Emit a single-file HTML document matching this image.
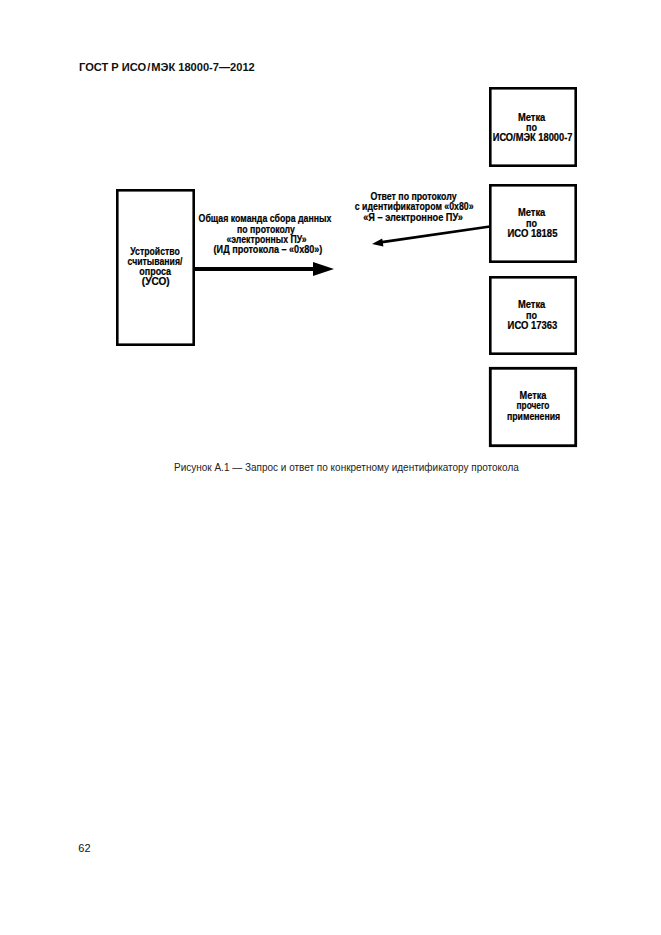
<!DOCTYPE html>
<html><head><meta charset="utf-8">
<style>
html,body{margin:0;padding:0;background:#fff;}
body{width:661px;height:935px;overflow:hidden;position:relative;}
svg{position:absolute;left:0;top:0;}
text{font-family:"Liberation Sans",sans-serif;}
.d{font-size:10px;font-weight:bold;fill:#000;stroke:#000;stroke-width:0.2px;}
</style></head><body>
<svg width="661" height="935" viewBox="0 0 661 935">
<rect x="0" y="0" width="661" height="935" fill="#fff"/>
<!-- header -->
<text x="79" y="70.9" font-size="11.1" font-weight="bold" fill="#111">ГОСТ Р ИСО<tspan dx="1">/</tspan><tspan dx="1">МЭК 18000-7—2012</tspan></text>

<!-- left box -->
<rect x="117.3" y="190.3" width="76.4" height="154.4" fill="none" stroke="#000" stroke-width="2.6"/>
<!-- right boxes -->
<rect x="490.3" y="88.3" width="85.4" height="77.4" fill="none" stroke="#000" stroke-width="2.6"/>
<rect x="490.3" y="185.3" width="85.4" height="76.4" fill="none" stroke="#000" stroke-width="2.6"/>
<rect x="490.3" y="277.3" width="85.4" height="76.4" fill="none" stroke="#000" stroke-width="2.6"/>
<rect x="490.3" y="368.3" width="85.4" height="77.4" fill="none" stroke="#000" stroke-width="2.8"/>

<!-- thick arrow -->
<rect x="195" y="267" width="119" height="4" fill="#000"/>
<polygon points="313,262 334,269 313,276" fill="#000"/>

<!-- thin arrow -->
<line x1="490" y1="226.5" x2="382" y2="242.2" stroke="#000" stroke-width="2.7"/>
<polygon points="372,244 383.4,246.6 382.2,238.6" fill="#000"/>

<!-- left box text -->
<g class="d" text-anchor="middle">
<text x="155" y="254.8" textLength="49.5" lengthAdjust="spacingAndGlyphs">Устройство</text>
<text x="155" y="264.8" textLength="54.8" lengthAdjust="spacingAndGlyphs">считывания/</text>
<text x="155.2" y="275" textLength="31.8" lengthAdjust="spacingAndGlyphs">опроса</text>
<text x="155.7" y="285" textLength="27.8" lengthAdjust="spacingAndGlyphs">(УСО)</text>

<text x="265" y="222" textLength="132.8" lengthAdjust="spacingAndGlyphs">Общая команда сбора данных</text>
<text x="266" y="232.6" textLength="57.8" lengthAdjust="spacingAndGlyphs">по протоколу</text>
<text x="266.5" y="243" textLength="80.2" lengthAdjust="spacingAndGlyphs">«электронных ПУ»</text>
<text x="268" y="253" textLength="108.8" lengthAdjust="spacingAndGlyphs">(ИД протокола – «0х80»)</text>

<text x="413.5" y="200.3" textLength="86.2" lengthAdjust="spacingAndGlyphs">Ответ по протоколу</text>
<text x="414.2" y="210.3" textLength="118.8" lengthAdjust="spacingAndGlyphs">с идентификатором «0х80»</text>
<text x="413.1" y="220.6" textLength="99.8" lengthAdjust="spacingAndGlyphs">«Я – электронное ПУ»</text>

<text x="531.6" y="120.7" textLength="27.4" lengthAdjust="spacingAndGlyphs">Метка</text>
<text x="531.6" y="130.9" textLength="11" lengthAdjust="spacingAndGlyphs">по</text>
<text x="532.6" y="141.1" textLength="79.8" lengthAdjust="spacingAndGlyphs">ИСО/МЭК 18000-7</text>

<text x="531.6" y="216.3" textLength="27.4" lengthAdjust="spacingAndGlyphs">Метка</text>
<text x="531.6" y="226.6" textLength="11" lengthAdjust="spacingAndGlyphs">по</text>
<text x="532.5" y="236.8" textLength="49.9" lengthAdjust="spacingAndGlyphs">ИСО 18185</text>

<text x="531.6" y="308.4" textLength="27.4" lengthAdjust="spacingAndGlyphs">Метка</text>
<text x="531.6" y="318.5" textLength="11" lengthAdjust="spacingAndGlyphs">по</text>
<text x="532.5" y="328.6" textLength="49.8" lengthAdjust="spacingAndGlyphs">ИСО 17363</text>

<text x="533" y="398.7" textLength="26.8" lengthAdjust="spacingAndGlyphs">Метка</text>
<text x="533" y="409.3" textLength="32.9" lengthAdjust="spacingAndGlyphs">прочего</text>
<text x="533.6" y="419.5" textLength="53.2" lengthAdjust="spacingAndGlyphs">применения</text>
</g>

<!-- caption -->
<text x="174" y="470.9" font-size="10" fill="#222" textLength="344.8" lengthAdjust="spacingAndGlyphs">Рисунок А.1 — Запрос и ответ по конкретному идентификатору протокола</text>

<!-- page number -->
<text x="78.3" y="852" font-size="11" fill="#111">62</text>
</svg>
</body></html>
